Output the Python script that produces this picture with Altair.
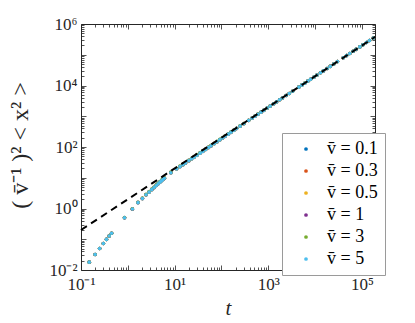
import altair as alt
import pandas as pd

# ---------------- data ----------------
series_labels = ["v\u0304 = 0.1", "v\u0304 = 0.3", "v\u0304 = 0.5", "v\u0304 = 1", "v\u0304 = 3", "v\u0304 = 5"]
series_colors = ["#0072BD", "#D95319", "#EDB120", "#7E2F8E", "#77AC30", "#4DBEEE"]

t_vals = [0.15, 0.2, 0.25, 0.3, 0.35, 0.4, 0.45,
          0.85, 1.25, 1.65, 2.05, 2.45, 2.85, 3.25, 3.65, 4.05, 4.45, 4.85, 5.25, 5.65, 6.05,
          8.3, 11, 13, 15, 17, 20, 23, 26, 30, 35,
          40, 46, 53, 60, 70, 80, 92, 105, 120, 140,
          160, 185, 210, 250, 300, 380, 450, 520, 600, 700,
          800, 950, 1100, 1300, 1500, 1750, 2000, 2400, 2800, 3300,
          4500, 5200, 6000, 7000, 8000, 9500, 11000, 13000, 15000, 18000,
          21000, 25000, 30000, 40000, 47000, 55000, 65000, 75000, 90000, 105000,
          125000, 145000, 175000]

y_v01 = [0.018, 0.032, 0.05, 0.073, 0.099, 0.128, 0.157,
         0.49, 0.95, 1.53, 2.08, 2.77, 3.36, 4.05, 4.75, 5.55, 6.33, 7.1, 7.9, 8.7, 9.5,
         14.4, 19.2, 22.8, 26.2, 29.7, 35.1, 40.6, 46, 53.4, 62.4,
         71.3, 82.2, 95, 108, 127, 146, 168.5, 193.5, 222, 260,
         299, 348, 396, 474, 571, 726, 862, 999, 1155, 1351,
         1547, 1842, 2137, 2532, 2927, 3422, 3917, 4707, 5497, 6497,
         8875, 10275, 11875, 13875, 15875, 18855, 21855, 25855, 29855, 35855,
         41855, 49855, 59855, 79855, 93855, 109855, 129855, 149855, 179855, 209855,
         249855, 289855, 349855]

y_v03 = [0.018, 0.032, 0.05, 0.073, 0.099, 0.128, 0.157,
         0.50, 0.955, 1.54, 2.09, 2.78, 3.38, 4.08, 4.78, 5.58, 6.37, 7.15, 7.95, 8.75, 9.55,
         14.5, 19.3, 22.9, 26.4, 29.9, 35.3, 40.8, 46.3, 53.7, 62.7,
         71.6, 82.6, 95.5, 108.5, 127.5, 146.5, 169, 194, 223, 261,
         300, 349, 397, 475, 572, 727, 864, 1001, 1157, 1353,
         1549, 1844, 2139, 2534, 2929, 3424, 3919, 4709, 5499, 6499,
         8878, 10278, 11878, 13878, 15878, 18858, 21858, 25858, 29858, 35858,
         41858, 49858, 59858, 79858, 93858, 109858, 129858, 149858, 179858, 209858,
         249858, 289858, 349858]

y_v05 = [0.018, 0.032, 0.05, 0.073, 0.099, 0.128, 0.157,
         0.50, 0.96, 1.56, 2.12, 2.82, 3.42, 4.12, 4.83, 5.63, 6.43, 7.23, 8.05, 8.85, 9.65,
         14.7, 19.5, 23.1, 26.6, 30.2, 35.7, 41.2, 46.8, 54.3, 63.3,
         72.4, 83.4, 96.5, 109.5, 128.5, 147.5, 170.5, 195.5, 224.5, 262.5,
         301.5, 350.5, 398.5, 476.5, 573.5, 728.5, 865.5, 1002.5, 1158.5, 1354.5,
         1551, 1846, 2141, 2536, 2931, 3426, 3921, 4711, 5501, 6501,
         8881, 10281, 11881, 13881, 15881, 18861, 21861, 25861, 29861, 35861,
         41861, 49861, 59861, 79861, 93861, 109861, 129861, 149861, 179861, 209861,
         249861, 289861, 349861]

y_v1 = [0.018, 0.032, 0.05, 0.073, 0.099, 0.128, 0.157,
        0.505, 0.97, 1.58, 2.15, 2.85, 3.5, 4.2, 4.9, 5.75, 6.55, 7.4, 8.2, 9.0, 9.85,
        15.0, 20.0, 23.7, 27.3, 31.0, 36.6, 42.2, 48.0, 55.6, 65.0,
        74, 85.5, 99, 112, 132, 151, 174.5, 200, 230, 268,
        307, 356, 404, 483, 580, 735, 872, 1010, 1166, 1362,
        1556, 1851, 2146, 2541, 2936, 3432, 3928, 4718, 5510, 6510,
        8890, 10290, 11890, 13890, 15890, 18880, 21880, 25880, 29880, 35880,
        41880, 49880, 59880, 79880, 93880, 109880, 129880, 149880, 179880, 209880,
        249880, 289880, 349880]

y_v3 = [0.018, 0.032, 0.05, 0.073, 0.099, 0.128, 0.157,
        0.51, 0.98, 1.6, 2.2, 2.9, 3.55, 4.3, 5.0, 5.85, 6.7, 7.5, 8.35, 9.2, 10.0,
        15.2, 20.3, 24.0, 27.7, 31.4, 37.0, 42.8, 48.5, 56.3, 65.7,
        75, 86.5, 100, 113.5, 133, 153, 176.5, 202, 232, 270,
        310, 359, 407, 486, 584, 740, 878, 1016, 1172, 1369,
        1560, 1855, 2150, 2545, 2940, 3440, 3935, 4725, 5520, 6520,
        8900, 10300, 11900, 13900, 15900, 18900, 21900, 25900, 29900, 35900,
        41900, 49900, 59900, 79900, 93900, 109900, 129900, 149900, 179900, 209900,
        249900, 289900, 349900]

y_v5 = [0.018, 0.032, 0.05, 0.073, 0.099, 0.128, 0.157,
        0.50, 0.96, 1.55, 2.1, 2.8, 3.4, 4.1, 4.8, 5.6, 6.4, 7.2, 8.0, 8.8, 9.6,
        14.6, 19.4, 23, 26.5, 30, 35.5, 41, 46.5, 54, 63,
        72, 83, 96, 109, 128, 147, 170, 195, 224, 262,
        301, 350, 398, 476, 573, 728, 865, 1002, 1158, 1354,
        1550, 1845, 2140, 2535, 2930, 3425, 3920, 4710, 5500, 6500,
        8880, 10280, 11880, 13880, 15880, 18860, 21860, 25860, 29860, 35860,
        41860, 49860, 59860, 79860, 93860, 109860, 129860, 149860, 179860, 209860,
        249860, 289860, 349860]

fit_t = [0.1, 190000]
fit_y = [0.2, 380000]

x_label_values = [0.1, 10, 1000, 100000]
x_label_texts = ["10\u207b\u00b9", "10\u00b9", "10\u00b3", "10\u2075"]
y_label_values = [0.01, 1, 100, 10000, 1000000]
y_label_texts = ["10\u207b\u00b2", "10\u2070", "10\u00b2", "10\u2074", "10\u2076"]

# ---------------- tables ----------------
rows = []
for lab, ys in zip(series_labels, [y_v01, y_v03, y_v05, y_v1, y_v3, y_v5]):
    for t, y in zip(t_vals, ys):
        rows.append({"t": t, "y": y, "series": lab})
df = pd.DataFrame(rows)
fit_df = pd.DataFrame({"t": fit_t, "y": fit_y})

# ---------------- helpers ----------------
SERIF = "Liberation Serif"
INK = "#262626"

def label_expr(values, texts):
    expr = "'" + texts[-1] + "'"
    for v, s in reversed(list(zip(values[:-1], texts[:-1]))):
        expr = f"datum.value <= {v * 1.5} ? '{s}' : " + expr
    return expr

x_major = [10.0 ** k for k in range(-1, 6)]
x_minor = [m * 10.0 ** k for k in range(-1, 6) for m in range(2, 10) if m * 10.0 ** k <= 190000]
y_major = [10.0 ** k for k in range(-2, 7)]
y_minor = [m * 10.0 ** k for k in range(-2, 6) for m in range(2, 10)]

xscale = alt.Scale(type="log", domain=[0.1, 190000], nice=False)
yscale = alt.Scale(type="log", domain=[0.01, 1000000], nice=False)

def tick_axis(orient, values, size):
    return alt.Axis(orient=orient, values=values, labels=False, domain=False, grid=False,
                    ticks=True, tickSize=size, offset=-size, tickColor=INK, tickWidth=0.8,
                    title=None)

# ---------------- layers ----------------
points = alt.Chart(df).mark_circle(size=13, opacity=1).encode(
    x=alt.X("t:Q", scale=xscale,
            axis=alt.Axis(orient="bottom", values=x_label_values,
                          labelExpr=label_expr(x_label_values, x_label_texts),
                          ticks=False, domain=False, grid=False, labelPadding=6,
                          labelFont=SERIF, labelFontSize=17, labelColor=INK,
                          labelFlush=False, labelOverlap=False,
                          title="t", titleFont=SERIF, titleFontStyle="italic",
                          titleFontSize=21, titleFontWeight="normal", titleColor=INK,
                          titleY=44, titleBaseline="alphabetic")),
    y=alt.Y("y:Q", scale=yscale,
            axis=alt.Axis(orient="left", values=y_label_values,
                          labelExpr=label_expr(y_label_values, y_label_texts),
                          ticks=False, domain=False, grid=False, labelPadding=4,
                          labelFont=SERIF, labelFontSize=17, labelColor=INK,
                          labelFlush=False, labelOverlap=False,
                          title="( v\u0304\u207b\u00b9 )\u00b2  < x\u00b2 >",
                          titleFont=SERIF, titleFontSize=24, titleFontWeight="normal",
                          titleColor=INK, titleAngle=270, titleX=-61, titleY=121,
                          titleAlign="center", titleBaseline="middle")),
    color=alt.Color("series:N", scale=alt.Scale(domain=series_labels, range=series_colors),
                    legend=alt.Legend(orient="none", legendX=201, legendY=109, title=None,
                                      fillColor="white", strokeColor="#9a9a9a",
                                      padding=7, cornerRadius=0, symbolType="circle",
                                      symbolSize=14, symbolStrokeWidth=0, symbolOffset=8,
                                      labelOffset=12, labelFont=SERIF, labelFontSize=18,
                                      labelColor="black", rowPadding=4)),
)

fit = alt.Chart(fit_df).mark_line(color="black", strokeWidth=2, strokeDash=[7, 5]).encode(
    x=alt.X("t:Q", scale=xscale, axis=None),
    y=alt.Y("y:Q", scale=yscale, axis=None),
)

def ghost(xo, yo, xv, yv, size):
    return alt.Chart(fit_df).mark_point(opacity=0).encode(
        x=alt.X("t:Q", scale=xscale, axis=tick_axis(xo, xv, size)),
        y=alt.Y("y:Q", scale=yscale, axis=tick_axis(yo, yv, size)),
    )

chart = alt.layer(
    points,
    fit,
    ghost("bottom", "left", x_major, y_major, 5),
    ghost("bottom", "left", x_minor, y_minor, 3),
    ghost("top", "right", x_major, y_major, 5),
    ghost("top", "right", x_minor, y_minor, 3),
).resolve_axis(x="independent", y="independent").properties(
    width=294, height=246,
    autosize=alt.AutoSizeParams(type="none"),
    padding={"left": 73, "top": 16, "right": 20, "bottom": 60},
).configure_view(stroke=INK, strokeWidth=1)

chart.save("out.html", embed_options={"renderer": "svg", "actions": False})
